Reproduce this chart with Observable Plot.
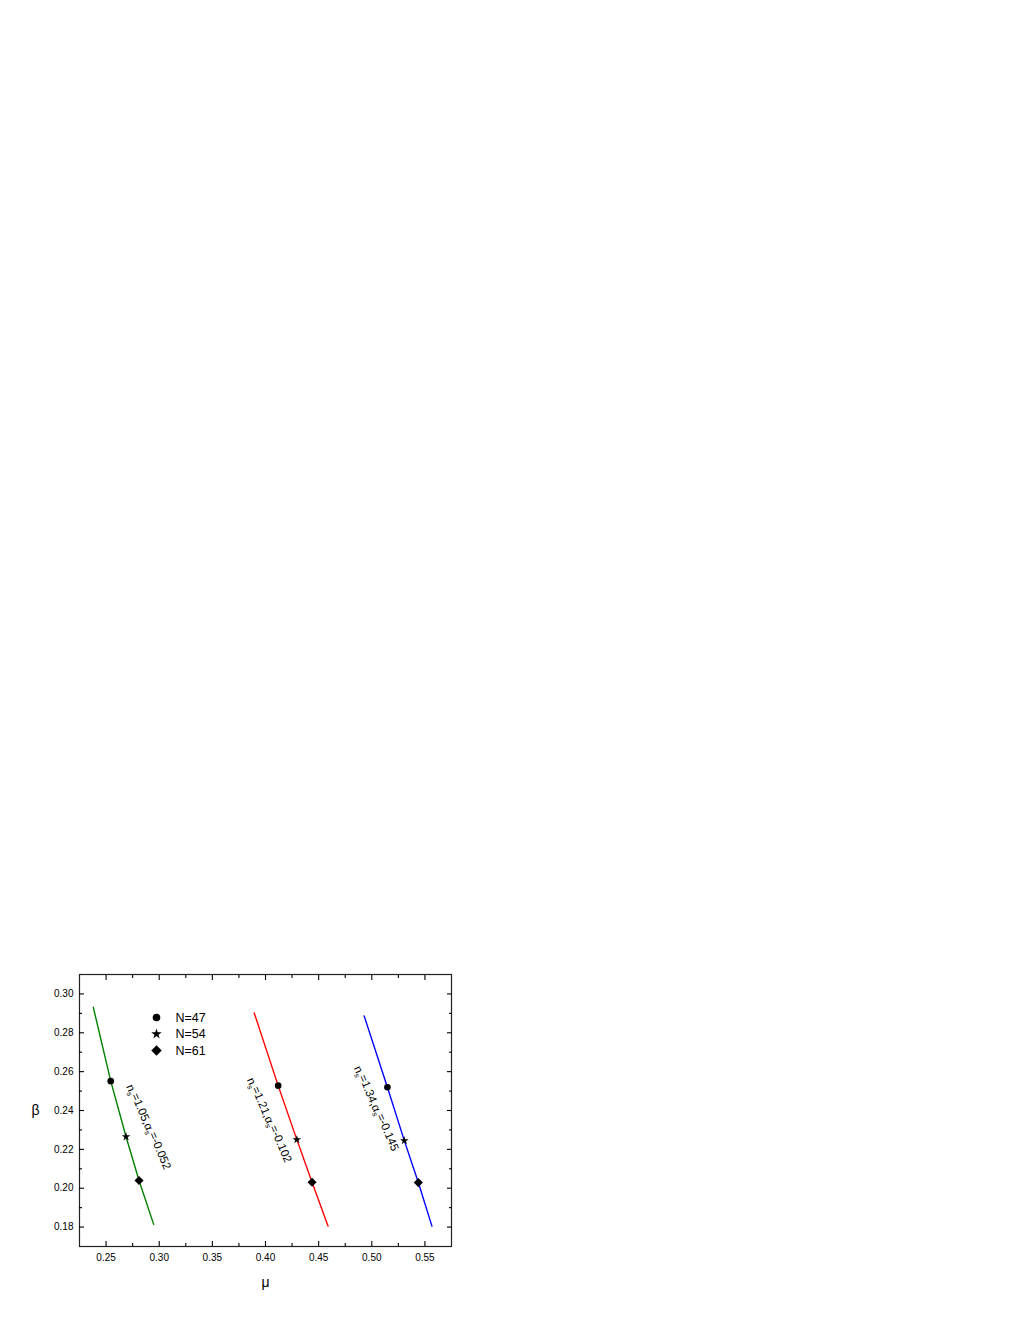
<!DOCTYPE html>
<html><head><meta charset="utf-8">
<script src="https://cdn.jsdelivr.net/npm/d3@7"></script>
<script src="https://cdn.jsdelivr.net/npm/@observablehq/plot@0.6"></script>
<style>body{margin:0;background:#fff} #chart{position:absolute;left:0;top:0}</style>
</head><body><div id="chart"></div>
<script>
// Curves (mu, beta)
const greenMu   = [0.2380, 0.2544, 0.2688, 0.2810, 0.2948];
const greenBeta = [0.2931, 0.2551, 0.2265, 0.2040, 0.1814];
const redMu     = [0.3894, 0.4119, 0.4295, 0.4438, 0.4588];
const redBeta   = [0.2902, 0.2528, 0.2250, 0.2031, 0.1805];
const blueMu    = [0.4928, 0.5147, 0.5306, 0.5438, 0.5566];
const blueBeta  = [0.2887, 0.2520, 0.2245, 0.2029, 0.1805];
const seriesColors = ["#008000", "#ff0000", "#0000ff"];

// Marked points: N = 47, 54, 61
const nLabels = ["N=47", "N=54", "N=61"];
const nSymbols = ["circle", "star", "diamond2"];
const greenPtMu = [0.2544, 0.2688, 0.2810], greenPtBeta = [0.2551, 0.2265, 0.2040];
const redPtMu   = [0.4119, 0.4295, 0.4438], redPtBeta   = [0.2528, 0.2250, 0.2031];
const bluePtMu  = [0.5147, 0.5306, 0.5438], bluePtBeta  = [0.2520, 0.2245, 0.2029];

// Curve annotations
const annText = ["n_s=1.05,α_s=-0.052", "n_s=1.21,α_s=-0.102", "n_s=1.34,α_s=-0.145"];
const annMu   = [0.2890, 0.4024, 0.5031];
const annBeta = [0.2313, 0.2348, 0.2408];

// Ticks
const xMajor = [0.25, 0.30, 0.35, 0.40, 0.45, 0.50, 0.55];
const xMinor = [0.275, 0.325, 0.375, 0.425, 0.475, 0.525];
const yMajor = [0.18, 0.20, 0.22, 0.24, 0.26, 0.28, 0.30];
const yMinor = [0.19, 0.21, 0.23, 0.25, 0.27, 0.29];

const lines = [[greenMu, greenBeta], [redMu, redBeta], [blueMu, blueBeta]]
  .map(([m, b], s) => m.map((mu, i) => ({mu, beta: b[i], s})));
const pts = [[greenPtMu, greenPtBeta], [redPtMu, redPtBeta], [bluePtMu, bluePtBeta]]
  .flatMap(([m, b], s) => m.map((mu, i) => ({mu, beta: b[i], k: i, s})));
const ann = annText.map((t, i) => ({t, mu: annMu[i], beta: annBeta[i]}));

const font = "Liberation Sans, Arial, sans-serif";
const fmt = d3.format(".2f");
const symR = {circle: 3.3, star: 2.7, diamond2: 4.1};
const legR = {circle: 3.8, star: 3.3, diamond2: 4.7};

const marks = [
  Plot.frame({stroke: "#222", strokeWidth: 1.2}),
  // inward ticks on all sides
  ...["bottom", "top"].flatMap(a => [
    Plot.axisX(xMajor, {anchor: a, tickSize: -5, text: null, label: null, strokeWidth: 1.1}),
    Plot.axisX(xMinor, {anchor: a, tickSize: -3, text: null, label: null, strokeWidth: 1.1})
  ]),
  ...["left", "right"].flatMap(a => [
    Plot.axisY(yMajor, {anchor: a, tickSize: -5, text: null, label: null, strokeWidth: 1.1}),
    Plot.axisY(yMinor, {anchor: a, tickSize: -3, text: null, label: null, strokeWidth: 1.1})
  ]),
  Plot.axisX(xMajor, {anchor: "bottom", tickSize: 0, tickPadding: 7, tickFormat: fmt, label: null, fontSize: 10}),
  Plot.axisY(yMajor, {anchor: "left", tickSize: 0, tickPadding: 6, tickFormat: fmt, label: null, fontSize: 10}),
  Plot.text(["β"], {frameAnchor: "left", dx: -48, text: d => d, fontSize: 14, lineAnchor: "middle"}),
  Plot.text(["μ"], {frameAnchor: "bottom", dy: 36, text: d => d, fontSize: 14, lineAnchor: "middle"}),
  ...lines.map((L, s) => Plot.line(L, {x: "mu", y: "beta", stroke: seriesColors[s], strokeWidth: 1.4})),
  ...nSymbols.map((sym, k) => Plot.dot(pts.filter(p => p.k === k), {
    x: "mu", y: "beta", symbol: sym, fill: "black", stroke: "none", r: symR[sym]
  })),
  Plot.text(ann, {x: "mu", y: "beta", text: "t", rotate: 67, fontSize: 11.5, fill: "black",
    textAnchor: "middle", lineAnchor: "middle"}),
  // legend
  ...nLabels.flatMap((lab, k) => [
    Plot.dot([lab], {frameAnchor: "top-left", dx: 77, dy: 43 + k * 16.5, symbol: nSymbols[k],
      fill: "black", stroke: "none", r: legR[nSymbols[k]]}),
    Plot.text([lab], {frameAnchor: "top-left", dx: 96, dy: 43 + k * 16.5, text: d => d,
      textAnchor: "start", lineAnchor: "middle", fontSize: 12.5})
  ])
];

const chart = Plot.plot({
  width: 1020, height: 1320,
  marginLeft: 79, marginRight: 569, marginTop: 974, marginBottom: 74,
  style: {fontFamily: font, background: "white", color: "black"},
  x: {domain: [0.225, 0.575], axis: null},
  y: {domain: [0.17, 0.31], axis: null},
  marks
});

// subscripts
d3.select(chart).selectAll("text").each(function () {
  const el = d3.select(this);
  const txt = this.textContent;
  if (!txt.includes("_")) return;
  el.text("");
  const parts = txt.split("_");
  parts.forEach((p, i) => {
    if (i === 0) { el.append("tspan").text(p); return; }
    el.append("tspan").attr("dy", "0.3em").attr("font-size", "0.65em").text(p[0]);
    el.append("tspan").attr("dy", "-0.3em").text(p.slice(1));
  });
});
document.getElementById("chart").appendChild(chart);
</script></body></html>
